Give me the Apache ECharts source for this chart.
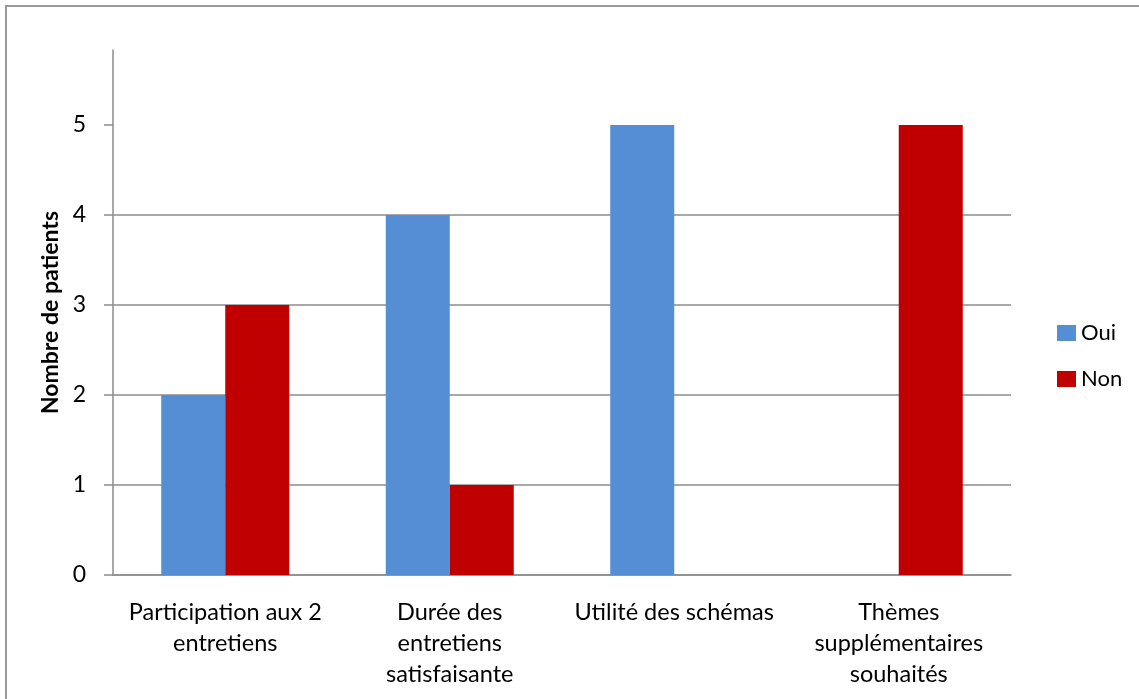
<!DOCTYPE html>
<html>
<head>
<meta charset="utf-8">
<script src="https://cdn.jsdelivr.net/npm/echarts@6/dist/echarts.min.js"></script>
<style>
  html, body { margin: 0; padding: 0; background: #fff; }
  #chart { width: 1139px; height: 699px; }
</style>
</head>
<body>
<div id="chart"></div>
<script>
// categories and values
var categories = [
    'Participation aux 2\nentretiens',
    'Durée des\nentretiens\nsatisfaisante',
    'Utilité des schémas',
    'Thèmes\nsupplémentaires\nsouhaités'
];
var oui = [2, 4, 5, 0];
var non = [3, 1, 0, 5];
var yTicks = [0, 1, 2, 3, 4, 5];

var font = 'Lato, "Open Sans", sans-serif';
var axisGray = '#8c8c8c';

var myChart = echarts.init(document.getElementById('chart'));

var option = {
    animation: false,
    backgroundColor: '#fff',
    textStyle: { fontFamily: font },
    graphic: [{
        type: 'rect',
        shape: { x: 6, y: 6, width: 1150, height: 710 },
        style: { fill: 'none', stroke: '#9a9a9a', lineWidth: 2 },
        silent: true
    }],
    legend: {
        orient: 'vertical',
        left: 1052,
        top: 317,
        itemWidth: 19,
        itemHeight: 16,
        itemGap: 24,
        icon: 'rect',
        textStyle: { fontSize: 22, color: '#000', fontFamily: font },
        data: ['Oui', 'Non']
    },
    grid: { left: 113, right: 128, top: 50, bottom: 124 },
    xAxis: {
        type: 'category',
        data: categories,
        axisLine: { lineStyle: { color: axisGray, width: 1.5 } },
        axisTick: { alignWithLabel: false, length: 8, lineStyle: { color: axisGray, width: 1.5 } },
        axisLabel: {
            color: '#000',
            fontSize: 23.5,
            lineHeight: 31,
            margin: 22,
            interval: 0,
            fontFamily: font
        }
    },
    yAxis: {
        type: 'value',
        min: 0,
        max: 5.833,
        interval: 1,
        name: 'Nombre de patients',
        nameLocation: 'middle',
        nameGap: 49,
        nameTextStyle: { fontSize: 23, fontWeight: 'bold', color: '#000', fontFamily: font },
        axisLine: { show: true, lineStyle: { color: axisGray, width: 1.5 } },
        axisTick: { show: true, length: 9, customValues: yTicks, lineStyle: { color: axisGray, width: 1.5 } },
        axisLabel: { color: '#000', fontSize: 23, margin: 27, customValues: yTicks, fontFamily: font },
        splitLine: { show: true, showMaxLine: false, lineStyle: { color: axisGray, width: 1.5 } }
    },
    series: [
        {
            name: 'Oui',
            type: 'bar',
            data: oui,
            barWidth: 64,
            barGap: '0%',
            itemStyle: { color: '#558ed5' }
        },
        {
            name: 'Non',
            type: 'bar',
            data: non,
            barWidth: 64,
            barGap: '0%',
            itemStyle: { color: '#c00000' }
        }
    ]
};

myChart.setOption(option);
</script>
</body>
</html>
